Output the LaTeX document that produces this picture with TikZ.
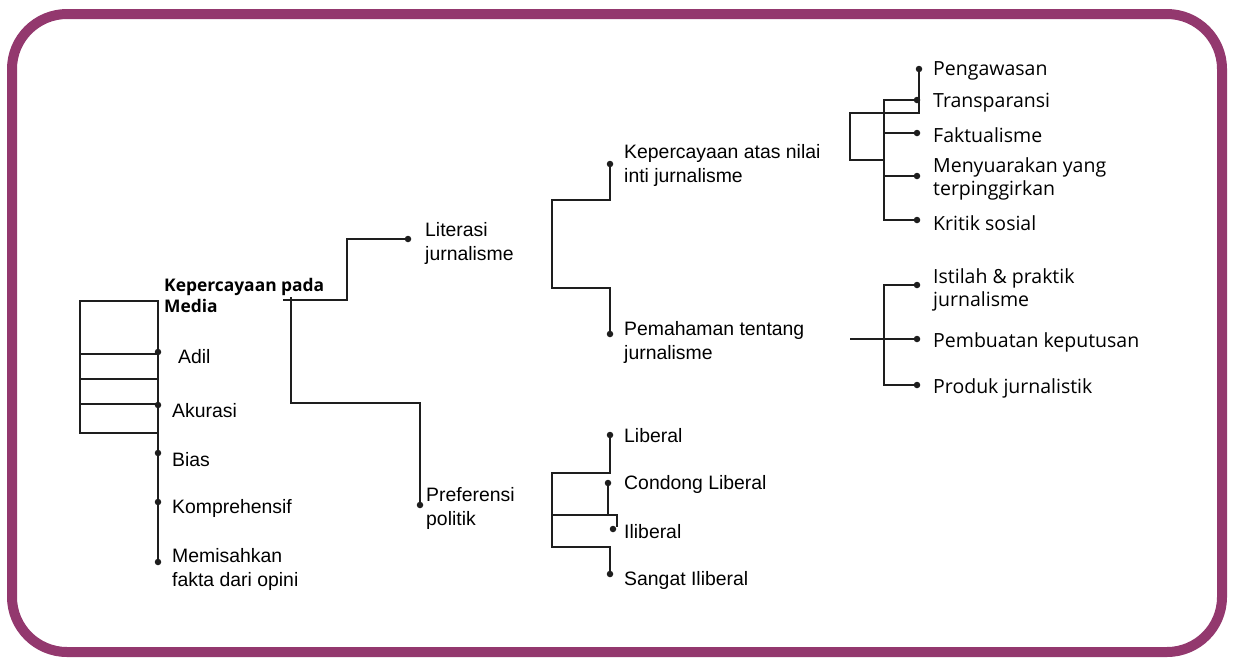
\documentclass[tikz,border=0pt]{standalone}
\usepackage{fontspec}
\setmainfont{Liberation Sans}
\newfontfamily\opensans{Open Sans}
\usetikzlibrary{positioning}
\definecolor{framecol}{RGB}{147,56,110}
\definecolor{linecol}{RGB}{30,30,30}

\tikzset{
  dot/.style={circle,fill=linecol,inner sep=0pt,minimum size=6.5pt},
  lbl/.style={anchor=west,align=left,inner sep=0pt,yshift=-2pt,font=\fontsize{19.4}{24}\selectfont},
  oslbl/.style={lbl,font=\opensans\fontsize{19.5}{23.5}\selectfont},
  ln/.style={draw=linecol,line width=1.4pt}
}

\begin{document}
\begin{tikzpicture}[x=1pt,y=-1pt]
        \useasboundingbox (0,0) rectangle (1233,657);
        % Frame
        \draw[framecol,line width=10pt,rounded corners=55pt] (12,14) rectangle (1222,652);

        % Root
        \node[lbl,font=\opensans\bfseries\fontsize{17.4}{21}\selectfont] (root) at (164,293) {Kepercayaan pada\\Media};

        % Media criteria
        \node[dot] (adil) at (158,352) {};
        \node[dot] (akurasi) at (158,405) {};
        \node[dot] (bias) at (158,453) {};
        \node[dot] (kompr) at (158,502) {};
        \node[dot] (pisah) at (158,562) {};
        \node[lbl] (adiltxt) at (178,355) {Adil};
        \node[lbl] (akurasitxt) at (172,409) {Akurasi};
        \node[lbl] (biastxt) at (172,458) {Bias};
        \node[lbl] (komprtxt) at (172,506) {Komprehensif};
        \node[lbl] (pisahtxt) at (172,567) {Memisahkan\\fakta dari opini};

        \draw[ln] (158,301) -- (pisah);
        \draw[ln] (80,301) rectangle (158,433);
        \draw[ln] (80,354) -- (158,354);
        \draw[ln] (80,379) -- (158,379);
        \draw[ln] (80,404) -- (158,404);

        % Second level
        \node[dot] (lit) at (408,239) {};
        \node[dot] (pref) at (420,505) {};
        \node[lbl] (littxt) at (425,241) {Literasi\\jurnalisme};
        \node[lbl] (preftxt) at (426,506) {Preferensi\\politik};

        \draw[ln] (283,300) -- (347,300) |- (lit);
        \draw[ln] (291,297) -- (291,403) -| (pref);

        % Literasi branch
        \node[dot] (nilai) at (610,164) {};
        \node[dot] (paham) at (610,334) {};
        \node[lbl] (nilaitxt) at (624,163) {Kepercayaan atas nilai\\inti jurnalisme};
        \node[lbl] (pahamtxt) at (624,340) {Pemahaman tentang\\jurnalisme};

        \draw[ln] (nilai) -- (610,200) -- (552,200) -- (552,288) -- (610,288) -- (paham);

        % Politik branch
        \node[dot] (lib) at (610,435) {};
        \node[dot] (condong) at (608,483) {};
        \node[dot] (ilib) at (613,529) {};
        \node[dot] (sangat) at (610,574) {};
        \node[lbl] (libtxt) at (624,434) {Liberal};
        \node[lbl] (condongtxt) at (624,482) {Condong Liberal};
        \node[lbl] (ilibtxt) at (624,530) {Iliberal};
        \node[lbl] (sangattxt) at (624,578) {Sangat Iliberal};

        \draw[ln] (lib) -- (610,473) -- (552,473) -- (552,547) -- (610,547) -- (sangat);
        \draw[ln] (condong) -- (608,515);
        \draw[ln] (552,515) -- (617,515) -- (617,527);

        % Nilai inti
        \node[dot] (awas) at (919,69) {};
        \node[dot] (trans) at (917,100) {};
        \node[dot] (fakta) at (917,133) {};
        \node[dot] (suara) at (917,176) {};
        \node[dot] (kritik) at (917,220) {};
        \node[oslbl] (awastxt) at (933,69) {Pengawasan};
        \node[oslbl] (transtxt) at (933,101) {Transparansi};
        \node[oslbl] (faktatxt) at (933,133) {Faktualisme};
        \node[oslbl] (suaratxt) at (933,177) {Menyuarakan yang\\terpinggirkan};
        \node[oslbl] (kritiktxt) at (933,221) {Kritik sosial};

        \draw[ln] (awas) -- (919,113) -- (850,113) -- (850,160) -- (884,160);
        \draw[ln] (trans) -- (884,100) |- (kritik);
        \draw[ln] (884,133) -- (fakta);
        \draw[ln] (884,176) -- (suara);

        % Pemahaman
        \node[dot] (istilah) at (917,285) {};
        \node[dot] (putus) at (917,339) {};
        \node[dot] (produk) at (917,385) {};
        \node[oslbl] (istilahtxt) at (933,288) {Istilah \& praktik\\jurnalisme};
        \node[oslbl] (putustxt) at (933,340) {Pembuatan keputusan};
        \node[oslbl] (produktxt) at (933,386) {Produk jurnalistik};

        \draw[ln] (istilah) -- (884,285) |- (produk);
        \draw[ln] (850,339) -- (putus);
    \end{tikzpicture}
\end{document}
